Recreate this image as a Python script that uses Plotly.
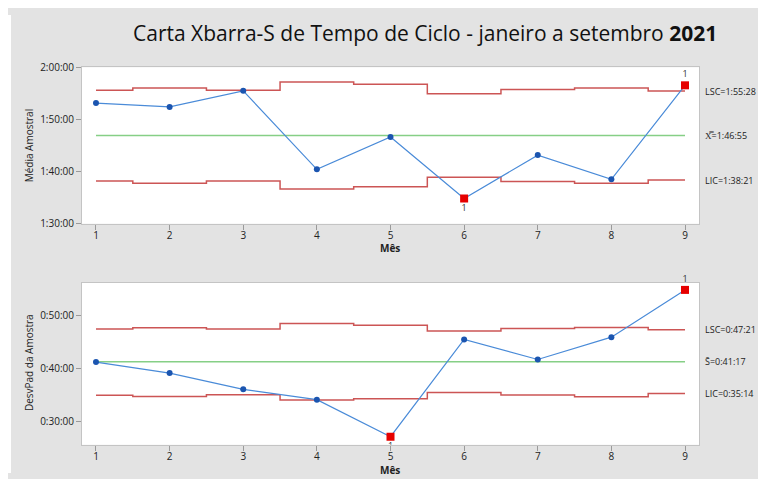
import plotly.graph_objects as go

months = [1, 2, 3, 4, 5, 6, 7, 8, 9]
month_ticks = ["1", "2", "3", "4", "5", "6", "7", "8", "9"]

# Xbar chart (sample means)
xbar = ["1:53:10", "1:52:26", "1:55:31", "1:40:25", "1:46:38", "1:34:49", "1:43:09", "1:38:29", "1:56:35"]
xbar_ucl = ["1:55:39", "1:56:05", "1:55:39", "1:57:12", "1:56:46", "1:54:58", "1:55:47", "1:56:05", "1:55:28"]
xbar_lcl = ["1:38:11", "1:37:45", "1:38:11", "1:36:38", "1:37:04", "1:38:52", "1:38:03", "1:37:45", "1:38:21"]
xbar_cl = "1:46:55"
xbar_ticks = ["1:30:00", "1:40:00", "1:50:00", "2:00:00"]

# S chart (sample std dev)
sdev = ["0:41:12", "0:39:07", "0:36:02", "0:34:05", "0:27:03", "0:45:30", "0:41:42", "0:45:56", "0:54:54"]
s_ucl = ["0:47:28", "0:47:43", "0:47:28", "0:48:31", "0:48:13", "0:47:06", "0:47:36", "0:47:47", "0:47:21"]
s_lcl = ["0:34:56", "0:34:41", "0:35:00", "0:34:00", "0:34:15", "0:35:25", "0:34:59", "0:34:37", "0:35:14"]
s_cl = "0:41:17"
s_ticks = ["0:30:00", "0:40:00", "0:50:00"]


def sec(t):
    h, m, s = [int(v) for v in t.split(":")]
    return h * 3600 + m * 60 + s


# page body has an 8px margin; figure occupies window pixels 8..766 x 8..479
OFF = 8
W, H = 766 - OFF, 479 - OFF


def px(X):
    return (X - OFF) / W


def py(Y):
    return 1 - (Y - OFF) / H


FONT = "Open Sans"
BLUE_LINE = "#4a8bd8"
BLUE_MK = "#1b55b0"
RED_LINE = "#cc5555"
GREEN = "#86cf86"
RED_MK = "#e60000"

fig = go.Figure()


def add_chart(vals, ucl, lcl, cl, xa, ya):
    v = [sec(t) for t in vals]
    u = [sec(t) for t in ucl]
    l = [sec(t) for t in lcl]
    c = sec(cl)
    fig.add_trace(go.Scatter(x=months, y=u, mode="lines", line=dict(color=RED_LINE, width=1.5, shape="hvh"),
                             xaxis=xa, yaxis=ya, showlegend=False, hoverinfo="skip"))
    fig.add_trace(go.Scatter(x=months, y=l, mode="lines", line=dict(color=RED_LINE, width=1.5, shape="hvh"),
                             xaxis=xa, yaxis=ya, showlegend=False, hoverinfo="skip"))
    fig.add_trace(go.Scatter(x=[months[0], months[-1]], y=[c, c], mode="lines",
                             line=dict(color=GREEN, width=1.5), xaxis=xa, yaxis=ya, showlegend=False))
    fig.add_trace(go.Scatter(x=months, y=v, mode="lines+markers", line=dict(color=BLUE_LINE, width=1.2),
                             marker=dict(color=BLUE_MK, size=6), xaxis=xa, yaxis=ya, showlegend=False))
    above = [i for i in range(len(v)) if v[i] > u[i]]
    below = [i for i in range(len(v)) if v[i] < l[i]]
    for idx, pos, clip in ((above, "top center", False), (below, "bottom center", True)):
        if not idx:
            continue
        fig.add_trace(go.Scatter(x=[months[i] for i in idx], y=[v[i] for i in idx], mode="markers+text",
                                 marker=dict(color=RED_MK, size=8, symbol="square"),
                                 text=["1"] * len(idx), textposition=pos,
                                 textfont=dict(size=9, color="#333", family=FONT), cliponaxis=clip,
                                 xaxis=xa, yaxis=ya, showlegend=False))


add_chart(xbar, xbar_ucl, xbar_lcl, xbar_cl, "x", "y")
add_chart(sdev, s_ucl, s_lcl, s_cl, "x2", "y2")

xdom = [px(82), px(699)]
ydom1 = [py(222.7), py(61.7)]
ydom2 = [py(450), py(283.3)]

axis_common = dict(showgrid=False, zeroline=False, showline=True, linecolor="#c4c4c4", linewidth=1,
                   mirror=True, ticks="outside", ticklen=5, tickcolor="#9a9a9a",
                   tickfont=dict(size=10, color="#222", family=FONT))

fig.update_layout(
    width=W, height=H, margin=dict(l=0, r=0, t=0, b=0),
    paper_bgcolor="#e3e3e3", plot_bgcolor="white",
    xaxis=dict(domain=xdom, range=[0.81, 9.19], tickvals=months, ticktext=month_ticks, anchor="y",
               ticklabelstandoff=-3, **axis_common),
    yaxis=dict(domain=ydom1, range=[sec("1:30:00") - 4, sec("2:00:00") + 4],
               tickvals=[sec(t) for t in xbar_ticks], ticktext=xbar_ticks, anchor="x", **axis_common),
    xaxis2=dict(domain=xdom, range=[0.81, 9.19], tickvals=months, ticktext=month_ticks, anchor="y2",
                ticklabelstandoff=-3, **axis_common),
    yaxis2=dict(domain=ydom2, range=[1531, 3376],
                tickvals=[sec(t) for t in s_ticks], ticktext=s_ticks, anchor="x2", **axis_common),
    shapes=[
        dict(type="rect", xref="paper", yref="paper", x0=0, x1=px(11), y0=0, y1=1,
             fillcolor="white", line=dict(width=0), layer="below"),
    ],
)

ann = []
# title
ann.append(dict(x=px(131), y=py(27), xref="paper", yref="paper", showarrow=False, xanchor="left",
                yanchor="middle",
                text="Carta Xbarra-S de Tempo de Ciclo - janeiro a setembro <b>2021</b>",
                font=dict(size=21, color="#111", family=FONT)))
# axis titles
ann.append(dict(x=px(29), y=py(142), xref="paper", yref="paper", showarrow=False, textangle=-90,
                xanchor="center", yanchor="middle",
                text="Média Amostral", font=dict(size=10, color="#222", family=FONT)))
ann.append(dict(x=px(29), y=py(366), xref="paper", yref="paper", showarrow=False, textangle=-90,
                xanchor="center", yanchor="middle",
                text="DesvPad da Amostra", font=dict(size=10, color="#222", family=FONT)))
ann.append(dict(x=px(390), y=py(248), xref="paper", yref="paper", showarrow=False,
                xanchor="center", yanchor="middle",
                text="<b>Mês</b>", font=dict(size=10, color="#222", family=FONT)))
ann.append(dict(x=px(390), y=py(476), xref="paper", yref="paper", showarrow=False,
                xanchor="center", yanchor="middle",
                text="<b>Mês</b>", font=dict(size=10, color="#222", family=FONT)))


# limit labels on the right
def lim_label(txt, yval, yref):
    ann.append(dict(x=px(703), y=yval, xref="paper", yref=yref, showarrow=False, xanchor="left",
                    text=txt, font=dict(size=9, color="#222", family=FONT)))


lim_label("LSC=" + xbar_ucl[-1], sec(xbar_ucl[-1]), "y")
lim_label("X\u033F=" + xbar_cl, sec(xbar_cl), "y")
lim_label("LIC=" + xbar_lcl[-1], sec(xbar_lcl[-1]), "y")
lim_label("LSC=" + s_ucl[-1], sec(s_ucl[-1]), "y2")
lim_label("S\u0304=" + s_cl, sec(s_cl), "y2")
lim_label("LIC=" + s_lcl[-1], sec(s_lcl[-1]), "y2")

for a in ann:
    fig.add_annotation(**a)

fig.write_html("out.html")
